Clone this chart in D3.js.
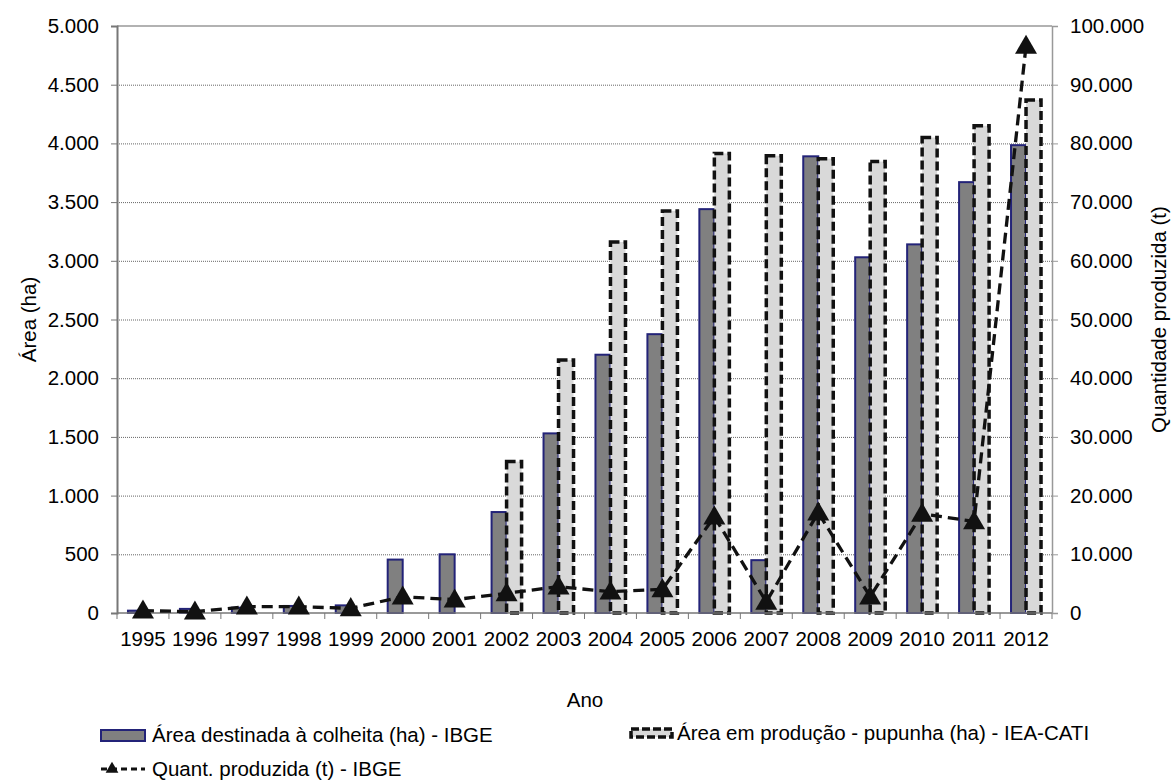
<!DOCTYPE html>
<html>
<head>
<meta charset="utf-8">
<script src="https://cdn.jsdelivr.net/npm/d3@7"></script>
<style>
  body { margin: 0; background: #fff; }
  text { font-family: "Liberation Sans", Arial, sans-serif; fill: #000; }
</style>
</head>
<body>
<svg id="drawing_region"></svg>
<script>
// data
const years = ["1995","1996","1997","1998","1999","2000","2001","2002","2003","2004","2005","2006","2007","2008","2009","2010","2011","2012"];
const areaIBGE = [20, 35, 45, 60, 65, 455, 500, 860, 1530, 2200, 2375, 3440, 450, 3890, 3030, 3140, 3670, 3985];
const areaCATI = [null, null, null, null, null, null, null, 1290, 2155, 3160, 3425, 3915, 3895, 3870, 3845, 4050, 4150, 4370];
const quant = [400, 220, 1070, 1070, 800, 2780, 2270, 3360, 4480, 3630, 4030, 16400, 1900, 17100, 2780, 16900, 15600, 96600];
const leftTicks = [0, 500, 1000, 1500, 2000, 2500, 3000, 3500, 4000, 4500, 5000];
const rightTicks = [0, 10000, 20000, 30000, 40000, 50000, 60000, 70000, 80000, 90000, 100000];

const legendLabels = ["Área destinada à colheita (ha) - IBGE", "Área em produção - pupunha (ha) - IEA-CATI", "Quant. produzida (t) - IBGE"];

const config = {
    width: 1176,
    height: 780,
    margin: {top: 26, right: 124, bottom: 167, left: 117}
};

const fs = '20.5px';
const fmt = v => d3.format(",")(v).replace(/,/g, ".");

const svg = d3.select('#drawing_region')
    .attr('width', config.width)
    .attr('height', config.height);

const inner_width = config.width - config.margin.left - config.margin.right;
const inner_height = config.height - config.margin.top - config.margin.bottom;

const chart = svg.append('g')
    .attr('transform', `translate(${config.margin.left}, ${config.margin.top})`);

const xscale = d3.scaleBand()
    .domain(years)
    .range([0, inner_width]);

const yleft = d3.scaleLinear()
    .domain([0, 5000])
    .range([inner_height, 0]);

const yright = d3.scaleLinear()
    .domain([0, 100000])
    .range([inner_height, 0]);

const bw = xscale.bandwidth();
const barW = 15;

// grid lines
chart.append('g')
    .selectAll('line')
    .data(leftTicks.filter(d => d > 0 && d < 5000))
    .enter()
    .append('line')
    .attr('x1', 0)
    .attr('x2', inner_width)
    .attr('y1', d => yleft(d) + 0.5)
    .attr('y2', d => yleft(d) + 0.5)
    .attr('stroke', '#666')
    .attr('stroke-width', 1)
    .attr('stroke-dasharray', '1,1');

// top border
chart.append('line')
    .attr('x1', 0).attr('x2', inner_width)
    .attr('y1', yleft(5000)).attr('y2', yleft(5000))
    .attr('stroke', '#999').attr('stroke-width', 1.5);

// bars IBGE
chart.append('g')
    .selectAll('rect')
    .data(years.map((y, i) => ({year: y, value: areaIBGE[i]})))
    .enter()
    .append('rect')
    .attr('x', d => xscale(d.year) + bw / 2 - barW)
    .attr('y', d => yleft(d.value))
    .attr('width', barW)
    .attr('height', d => inner_height - yleft(d.value))
    .attr('fill', '#808080')
    .attr('stroke', '#232378')
    .attr('stroke-width', 2);

// bars IEA-CATI
chart.append('g')
    .selectAll('rect')
    .data(years.map((y, i) => ({year: y, value: areaCATI[i]})).filter(d => d.value !== null))
    .enter()
    .append('rect')
    .attr('x', d => xscale(d.year) + bw / 2)
    .attr('y', d => yleft(d.value))
    .attr('width', barW)
    .attr('height', d => inner_height - yleft(d.value))
    .attr('fill', '#d9d9d9')
    .attr('stroke', '#111')
    .attr('stroke-width', 3.5)
    .attr('stroke-dasharray', '9,4');

// axes
const xaxis_group = chart.append('g')
    .attr('transform', `translate(0, ${inner_height})`);
xaxis_group.append('line')
    .attr('x1', 0).attr('x2', inner_width)
    .attr('stroke', '#777').attr('stroke-width', 1.5);
xaxis_group.selectAll('.xt')
    .data(years.concat(['end']))
    .enter()
    .append('line')
    .attr('x1', (d, i) => i * bw)
    .attr('x2', (d, i) => i * bw)
    .attr('y1', 0).attr('y2', 6)
    .attr('stroke', '#777').attr('stroke-width', 1);
xaxis_group.selectAll('text')
    .data(years)
    .enter()
    .append('text')
    .attr('x', d => xscale(d) + bw / 2)
    .attr('y', 33)
    .attr('text-anchor', 'middle')
    .attr('font-size', fs)
    .text(d => d);

const yaxis_left = d3.axisLeft(yleft)
    .tickValues(leftTicks)
    .tickFormat(fmt)
    .tickSize(6)
    .tickPadding(12);
const yl = chart.append('g').call(yaxis_left);
yl.select('.domain').attr('stroke', '#777').attr('stroke-width', 2);
yl.selectAll('.tick line').attr('stroke', '#777');
yl.selectAll('.tick text').attr('font-size', fs).attr('font-family', '"Liberation Sans", Arial, sans-serif').attr('fill', '#000');

const yaxis_right = d3.axisRight(yright)
    .tickValues(rightTicks)
    .tickFormat(fmt)
    .tickSize(6)
    .tickPadding(12);
const yr = chart.append('g')
    .attr('transform', `translate(${inner_width}, 0)`)
    .call(yaxis_right);
yr.select('.domain').attr('stroke', '#999').attr('stroke-width', 1.5);
yr.selectAll('.tick line').attr('stroke', '#999');
yr.selectAll('.tick text').attr('font-size', fs).attr('font-family', '"Liberation Sans", Arial, sans-serif').attr('fill', '#000');

// line quant
const lineData = years.map((y, i) => ({year: y, value: quant[i]}));
const line = d3.line()
    .x(d => xscale(d.year) + bw / 2)
    .y(d => yright(d.value));
chart.append('path')
    .datum(lineData)
    .attr('d', line)
    .attr('fill', 'none')
    .attr('stroke', '#111')
    .attr('stroke-width', 3.3)
    .attr('stroke-dasharray', '11,6');

const tri = d3.symbol().type(d3.symbolTriangle).size(210);
chart.append('g')
    .selectAll('path')
    .data(lineData)
    .enter()
    .append('path')
    .attr('d', tri)
    .attr('transform', d => `translate(${xscale(d.year) + bw / 2}, ${yright(d.value) + 1.5})`)
    .attr('fill', '#111');

// axis titles
svg.append('text')
    .attr('transform', `translate(36, ${config.margin.top + inner_height / 2}) rotate(-90)`)
    .attr('text-anchor', 'middle')
    .attr('font-size', fs)
    .text('Área (ha)');

svg.append('text')
    .attr('transform', `translate(1166, ${config.margin.top + inner_height / 2}) rotate(-90)`)
    .attr('text-anchor', 'middle')
    .attr('font-size', fs)
    .text('Quantidade produzida (t)');

svg.append('text')
    .attr('x', 585)
    .attr('y', 707)
    .attr('text-anchor', 'middle')
    .attr('font-size', fs)
    .text('Ano');

// legend
const legend = svg.append('g');
legend.append('rect')
    .attr('x', 101).attr('y', 730).attr('width', 44).attr('height', 11)
    .attr('fill', '#808080').attr('stroke', '#232378').attr('stroke-width', 2);
legend.append('text')
    .attr('x', 152).attr('y', 742)
    .attr('font-size', fs)
    .text(legendLabels[0]);

legend.append('rect')
    .attr('x', 631).attr('y', 729).attr('width', 41).attr('height', 8)
    .attr('fill', '#d9d9d9').attr('stroke', '#111').attr('stroke-width', 3.5)
    .attr('stroke-dasharray', '8,3');
legend.append('text')
    .attr('x', 677).attr('y', 740)
    .attr('font-size', fs)
    .text(legendLabels[1]);

legend.append('line')
    .attr('x1', 101).attr('x2', 145).attr('y1', 769).attr('y2', 769)
    .attr('stroke', '#111').attr('stroke-width', 3).attr('stroke-dasharray', '6,4');
legend.append('path')
    .attr('d', d3.symbol().type(d3.symbolTriangle).size(70))
    .attr('transform', 'translate(112, 769)')
    .attr('fill', '#111');
legend.append('text')
    .attr('x', 152).attr('y', 776)
    .attr('font-size', fs)
    .text(legendLabels[2]);
</script>
</body>
</html>
